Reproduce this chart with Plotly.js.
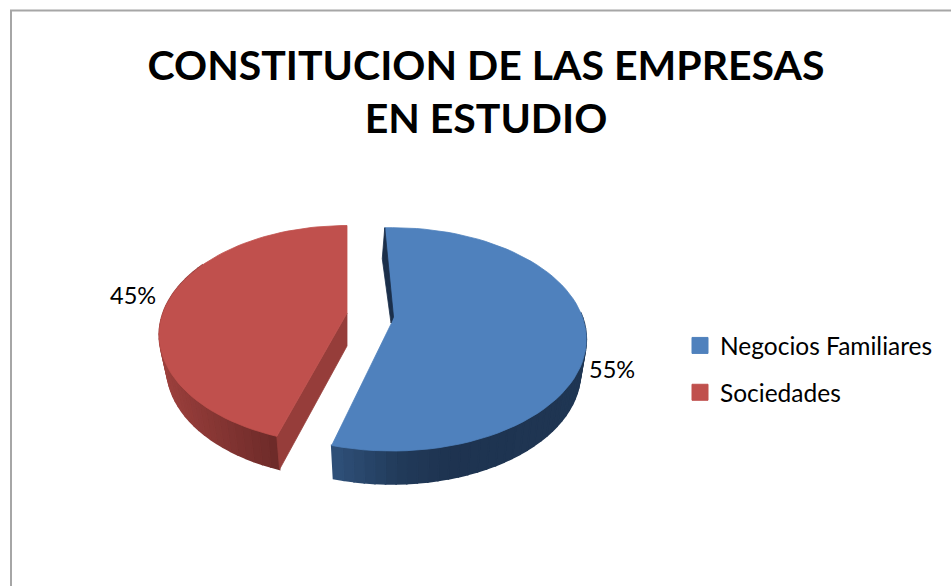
<!DOCTYPE html>
<html>
<head>
<meta charset="utf-8">
<script src="https://cdn.plot.ly/plotly-3.0.0.min.js"></script>
<style>html,body{margin:0;padding:0;background:#fff}#chart{width:951px;height:586px}</style>
</head>
<body>
<div id="chart"></div>
<script>
// Data
var categories = ['Negocios Familiares', 'Sociedades'];
var shares = [55, 45];
var titleText = 'CONSTITUCION DE LAS EMPRESAS<br>EN ESTUDIO';

// Palette
var topColors = ['#4f81bd', '#c0504d'];
var innerColors = ['#1b2f4a', '#963d3a'];
var wallStops = [
  [[333, [47, 80, 121]], [400, [33, 58, 89]], [450, [30, 51, 80]], [586, [31, 54, 83]]],
  [[160, [156, 64, 61]], [277, [108, 42, 40]]]
];

// Projection of each tilted, exploded slice (page pixel units on hidden 1:1 axes)
var views = [
  {cx: 392, cy: 322, A: 192, B: 109, k: 0.155, depth: 33, shrink: 0.97, start: -2.5},
  {cx: 347, cy: 313, A: 184, B: 105, k: 0.2,   depth: 33, shrink: 0.96, start: 360 - 360 * shares[1] / (shares[0] + shares[1])}
];

function project(v, deg) {
  var t = deg * Math.PI / 180, u = Math.sin(t), n = Math.cos(t), w = 1 + v.k * n;
  return [v.cx + v.A * u / w, v.cy - v.B * n / w];
}
function lerpColor(stops, x) {
  if (x <= stops[0][0]) return 'rgb(' + stops[0][1].join(',') + ')';
  for (var i = 1; i < stops.length; i++) {
    if (x <= stops[i][0]) {
      var f = (x - stops[i-1][0]) / (stops[i][0] - stops[i-1][0]);
      return 'rgb(' + stops[i][1].map(function (c, j) {
        return Math.round(stops[i-1][1][j] + (c - stops[i-1][1][j]) * f);
      }).join(',') + ')';
    }
  }
  return 'rgb(' + stops[stops.length-1][1].join(',') + ')';
}
function poly(xs, ys, color, lw) {
  return {type: 'scatter', mode: 'lines', x: xs, y: ys, fill: 'toself', fillcolor: color,
          line: {color: color, width: lw === undefined ? 0.8 : lw}, showlegend: false, hoverinfo: 'skip'};
}

var total = shares[0] + shares[1];
var traces = [];
shares.forEach(function (val, i) {
  var v = views[i], sweep = 360 * val / total, a0 = v.start, a1 = a0 + sweep;
  function lowX(x) { return v.cx + (x - v.cx) * v.shrink; }
  // outer wall, in strips for the shading
  var lo = Math.max(a0, 85), hi = Math.min(a1, 300), N = 40;
  for (var s = 0; s < N; s++) {
    var d0 = lo + (hi - lo) * s / N, d1 = lo + (hi - lo) * (s + 1) / N;
    var p0 = project(v, d0), p1 = project(v, d1);
    traces.push(poly([p0[0], p1[0], lowX(p1[0]), lowX(p0[0]), p0[0]],
                     [p0[1], p1[1], p1[1] + v.depth, p0[1] + v.depth, p0[1]],
                     lerpColor(wallStops[i], (p0[0] + p1[0]) / 2), 1.6));
  }
  var pA = project(v, a0);
  if (i === 1) { // cut face of the red slice seen from the front
    traces.push(poly([v.cx, v.cx, lowX(pA[0]), pA[0], v.cx],
                     [v.cy, v.cy + v.depth, pA[1] + v.depth, pA[1], v.cy], innerColors[1]));
  }
  // top face
  var xs = [v.cx], ys = [v.cy];
  for (var d = 0; d <= 72; d++) {
    var p = project(v, a0 + sweep * d / 72);
    xs.push(p[0]); ys.push(p[1]);
  }
  xs.push(v.cx); ys.push(v.cy);
  traces.push(poly(xs, ys, topColors[i]));
  if (i === 0) { // thin dark cut face behind the blue slice
    traces.push(poly([pA[0], pA[0] - 2.5, v.cx - 1, v.cx + 1.5, pA[0]],
                     [pA[1], pA[1] + 31, v.cy + 1, v.cy - 5, pA[1]], innerColors[0]));
  }
});

// Legend entries
categories.forEach(function (name, i) {
  traces.push({type: 'scatter', mode: 'markers', x: [-50], y: [-50], name: name, legendgroup: name,
               marker: {symbol: 'square', size: 16, color: topColors[i], line: {color: topColors[i], width: 1}},
               hoverinfo: 'skip'});
});

var labelPos = [[612, 369], [133, 295]];
var annotations = shares.map(function (val, i) {
  return {x: labelPos[i][0], y: labelPos[i][1], xref: 'x', yref: 'y', text: val + '%', showarrow: false,
          font: {family: 'Lato, Carlito, sans-serif', size: 23.5, color: '#000'}};
});

var layout = {
  width: 951, height: 586,
  margin: {l: 0, r: 0, t: 0, b: 0},
  paper_bgcolor: '#fff', plot_bgcolor: '#fff',
  title: {text: titleText, x: 486 / 951, xanchor: 'center', y: 1 - 80 / 586, yanchor: 'top',
          font: {family: 'Lato, Carlito, sans-serif', size: 41, color: '#000', weight: 700}},
  xaxis: {range: [0, 951], visible: false, fixedrange: true},
  yaxis: {range: [586, 0], visible: false, fixedrange: true},
  showlegend: true,
  legend: {x: 680 / 951, xanchor: 'left', y: 1 - 323 / 586, yanchor: 'top', tracegroupgap: 12,
           bgcolor: 'rgba(0,0,0,0)', font: {family: 'Lato, Carlito, sans-serif', size: 24.5, color: '#000'}},
  annotations: annotations,
  shapes: [
    {type: 'line', xref: 'paper', yref: 'paper', x0: 11 / 951, x1: 11 / 951, y0: 0, y1: 1 - 10 / 586, line: {color: '#a6a6a6', width: 2}},
    {type: 'line', xref: 'paper', yref: 'paper', x0: 10 / 951, x1: 1, y0: 1 - 10.5 / 586, y1: 1 - 10.5 / 586, line: {color: '#a6a6a6', width: 2}}
  ]
};
Plotly.newPlot('chart', traces, layout, {displayModeBar: false, staticPlot: true});
</script>
</body>
</html>
